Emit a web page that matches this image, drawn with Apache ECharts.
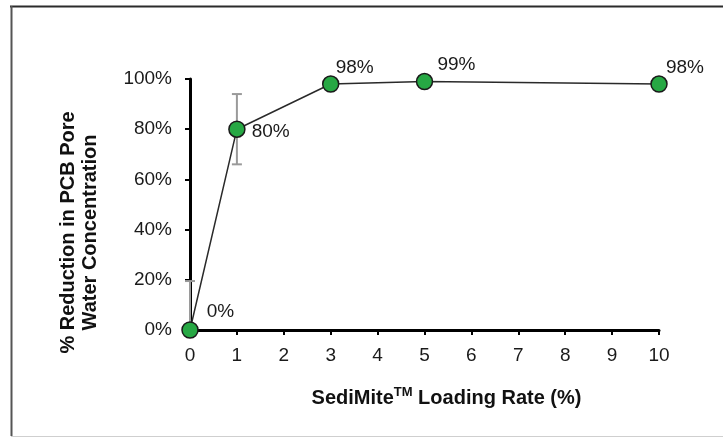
<!DOCTYPE html>
<html>
<head>
<meta charset="utf-8">
<script src="https://cdn.jsdelivr.net/npm/echarts@6/dist/echarts.min.js"></script>
<style>
  html, body { margin: 0; padding: 0; background: #fff; }
  #chart { width: 723px; height: 438px; }
</style>
</head>
<body>
<div id="chart"></div>
<script>
// SedimiteTM loading rate (%) vs. reduction in PCB pore water concentration
const loadingRate = [0, 1, 3, 5, 10];
const reduction = [0, 80, 98, 99, 98];
const errLow = [0, 66, null, null, null];
const errHigh = [19.5, 94, null, null, null];
const yTicks = [0, 20, 40, 60, 80, 100];
const xTicks = [0, 1, 2, 3, 4, 5, 6, 7, 8, 9, 10];

const FONT = '"Liberation Sans", Arial, sans-serif';

const points = loadingRate.map((x, i) => [x, reduction[i]]);
const errData = loadingRate
  .map((x, i) => [x, errLow[i], errHigh[i]])
  .filter(d => d[1] !== null);

// label placement per point (0% sits up-right, 80% to the right, the rest above-right)
const labelCfg = [
  { position: 'right', offset: [3, -18] },
  { position: 'right', offset: [1, 3] },
  { position: 'top', offset: [24, 7] },
  { position: 'top', offset: [32, 7] },
  { position: 'top', offset: [26, 7] }
];

const chart = echarts.init(document.getElementById('chart'), null, { renderer: 'canvas' });

chart.setOption({
  animation: false,
  backgroundColor: '#fff',
  grid: { left: 190, right: 64, top: 79, bottom: 108, containLabel: false },
  xAxis: {
    type: 'value',
    min: xTicks[0],
    max: xTicks[xTicks.length - 1],
    interval: 1,
    name: '{b|SediMite}{sup|TM}{b| Loading Rate (%)}',
    nameLocation: 'middle',
    nameGap: 46,
    nameTextStyle: {
      padding: [0, 0, 0, 44],
      rich: {
        b: { fontFamily: FONT, fontWeight: 'bold', fontSize: 20, color: '#111', verticalAlign: 'bottom', lineHeight: 24 },
        sup: { fontFamily: FONT, fontWeight: 'bold', fontSize: 13, color: '#111', verticalAlign: 'bottom', lineHeight: 32, padding: [0, 0, 9, 0] }
      }
    },
    axisLine: { show: true, onZero: false, lineStyle: { color: '#000', width: 3 } },
    axisTick: { show: true, inside: false, length: 5, lineStyle: { color: '#000', width: 2 } },
    axisLabel: { fontFamily: FONT, fontSize: 19, color: '#1a1a1a', margin: 16 },
    splitLine: { show: false }
  },
  yAxis: {
    type: 'value',
    min: yTicks[0],
    max: yTicks[yTicks.length - 1],
    interval: 20,
    name: '% Reduction in PCB Pore\nWater Concentration',
    nameLocation: 'middle',
    nameGap: 89,
    nameTextStyle: {
      fontFamily: FONT, fontWeight: 'bold', fontSize: 20, color: '#111',
      lineHeight: 22, align: 'center', padding: [0, 56, 0, 0]
    },
    axisLine: { show: true, onZero: false, lineStyle: { color: '#000', width: 3 } },
    axisTick: { show: true, inside: false, length: 5, lineStyle: { color: '#000', width: 2 } },
    axisLabel: { fontFamily: FONT, fontSize: 19, color: '#1a1a1a', margin: 18, formatter: v => v + '%' },
    splitLine: { show: false }
  },
  series: [
    {
      type: 'custom',
      name: 'error',
      z: 2,
      data: errData,
      renderItem: function (params, api) {
        const x = api.value(0);
        const lo = api.coord([x, api.value(1)]);
        const hi = api.coord([x, api.value(2)]);
        const cap = 5;
        const style = { stroke: '#9a9a9a', lineWidth: 2 };
        return {
          type: 'group',
          children: [
            { type: 'line', shape: { x1: lo[0], y1: lo[1], x2: hi[0], y2: hi[1] }, style },
            { type: 'line', shape: { x1: hi[0] - cap, y1: hi[1], x2: hi[0] + cap, y2: hi[1] }, style },
            { type: 'line', shape: { x1: lo[0] - cap, y1: lo[1], x2: lo[0] + cap, y2: lo[1] }, style }
          ]
        };
      }
    },
    {
      type: 'line',
      name: 'reduction',
      z: 3,
      data: points.map((p, i) => ({
        value: p,
        label: {
          show: true,
          position: labelCfg[i].position,
          offset: labelCfg[i].offset,
          formatter: d => d.value[1] + '%'
        }
      })),
      symbol: 'circle',
      symbolSize: 16,
      showSymbol: true,
      lineStyle: { color: '#2a2a2a', width: 1.5 },
      itemStyle: { color: '#27a844', borderColor: '#1a1a1a', borderWidth: 1.5 },
      label: { fontFamily: FONT, fontSize: 19, color: '#1a1a1a' },
      emphasis: { disabled: true }
    }
  ],
  graphic: [
    { type: 'line', shape: { x1: 10, y1: 6.5, x2: 723, y2: 6.5 }, style: { stroke: '#2b2b2b', lineWidth: 2 } },
    { type: 'line', shape: { x1: 11.5, y1: 6, x2: 11.5, y2: 436 }, style: { stroke: '#555', lineWidth: 2 } },
    { type: 'line', shape: { x1: 11, y1: 436.5, x2: 723, y2: 436.5 }, style: { stroke: '#cfcfcf', lineWidth: 1 } }
  ]
});
</script>
</body>
</html>
